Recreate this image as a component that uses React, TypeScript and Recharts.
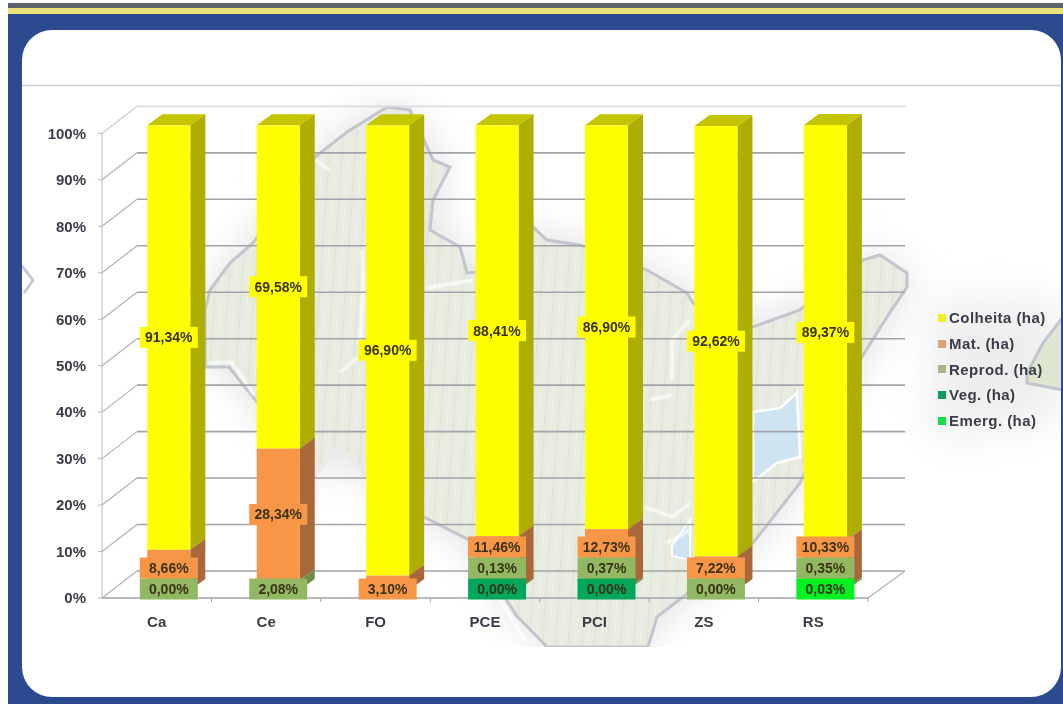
import { BarChart, Bar, XAxis, YAxis, CartesianGrid, LabelList, Legend } from 'recharts'

const regions = ['Ca', 'Ce', 'FO', 'PCE', 'PCI', 'ZS', 'RS']
const colheita = [91.34, 69.58, 96.9, 88.41, 86.9, 92.62, 89.37]
const mat = [8.66, 28.34, 3.1, 11.46, 12.73, 7.22, 10.33]
const reprod = [0, 2.08, null, 0.13, 0.37, 0, 0.35]
const veg = [null, null, null, 0, 0, null, null]
const emerg = [null, null, null, null, null, null, 0.03]
const yTicks = [0, 10, 20, 30, 40, 50, 60, 70, 80, 90, 100]

const chartData = regions.map((name, i) => ({
  name,
  colheita: colheita[i],
  mat: mat[i],
  reprod: reprod[i],
  veg: veg[i],
  emerg: emerg[i],
}))

// top of the stack first, reverseStackOrder flips it so lower labels paint over upper bars
const series = [
  { key: 'colheita', name: 'Colheita (ha)', fill: '#ffff00', side: '#aeae00', top: '#c4c400', legend: '#eef020' },
  { key: 'mat', name: 'Mat. (ha)', fill: '#f79646', side: '#a9683a', top: '#a9683a', legend: '#dca476' },
  { key: 'reprod', name: 'Reprod. (ha)', fill: '#93b864', side: '#6f8c48', top: '#6f8c48', legend: '#aab584' },
  { key: 'veg', name: 'Veg. (ha)', fill: '#00a65a', side: '#007a42', top: '#007a42', legend: '#0f9a62' },
  { key: 'emerg', name: 'Emerg. (ha)', fill: '#00f020', side: '#00b018', top: '#00b018', legend: '#14e04a' },
]

const W = 1063
const H = 704
const PLOT = { left: 102, top: 133, right: 868, bottom: 598 }
const PX_PER_PCT = (PLOT.bottom - PLOT.top) / 100
const BACK = { dx: 35, dy: -27, rightDx: 37 }
const BAR_SHIFT = { x: 12.3, y: -8 }
const DEPTH = { x: 15, y: -11 }
const LABEL_H = 21
const LEGEND_W = 125
const fontFamily = '"Liberation Sans", Arial, sans-serif'

// Excel style label placement: lowest label sits on the floor, the others get pushed up to not overlap
function labelCenters(index: number) {
  const row: any = chartData[index]
  const centers: Record<string, number> = {}
  const base = PLOT.bottom + BAR_SHIFT.y
  let cum = 0
  let prev: number | null = null
  for (const s of [...series].reverse()) {
    const v = row[s.key]
    if (v == null) continue
    let y = base - (cum + v / 2) * PX_PER_PCT
    if (prev == null && y > base - 10) y = base - 1
    if (prev != null) y = Math.min(y, prev - LABEL_H)
    centers[s.key] = y
    prev = y
    cum += v
  }
  return centers
}

function Bar3D(props: any) {
  const { x, y, width, height, fill, side, top, showTop } = props
  if (!height || height <= 0) return null
  const fx = x + BAR_SHIFT.x
  const fy = y + BAR_SHIFT.y
  const r = fx + width
  const b = fy + height
  return (
    <g>
      <polygon points={`${r},${fy} ${r + DEPTH.x},${fy + DEPTH.y} ${r + DEPTH.x},${b + DEPTH.y} ${r},${b}`} fill={side} />
      {showTop && (
        <polygon
          points={`${fx},${fy} ${fx + DEPTH.x},${fy + DEPTH.y} ${r + DEPTH.x},${fy + DEPTH.y} ${r},${fy}`}
          fill={top}
        />
      )}
      <rect x={fx} y={fy} width={width} height={height} fill={fill} />
    </g>
  )
}

function makeLabel(key: string, fill: string) {
  return function BarLabel(props: any) {
    const { x, width, value, index } = props
    if (value == null) return null
    const cy = labelCenters(index)[key]
    const cx = x + width / 2 + BAR_SHIFT.x
    const text = Number(value).toFixed(2).replace('.', ',') + '%'
    return (
      <g>
        <rect x={cx - 29} y={cy - LABEL_H / 2} width={58} height={LABEL_H} fill={fill} />
        <text x={cx} y={cy + 5} textAnchor="middle" fontFamily={fontFamily} fontWeight="bold" fontSize={14} fill="#3b3316">
          {text}
        </text>
      </g>
    )
  }
}

// perspective grid: front tick -> back wall -> right end
function GridLine(props: any) {
  const { x1, x2, y1, key } = props
  const isTop = y1 <= PLOT.top + 1
  const isFloor = y1 >= PLOT.bottom - 1
  const stroke = isTop ? '#dcdcdc' : '#a2a3aa'
  const bx = x1 + BACK.dx
  const by = y1 + BACK.dy
  const step = (x2 - x1) / regions.length
  return (
    <g key={key}>
      <line x1={x1} y1={y1} x2={bx} y2={by} stroke={isTop ? '#c4c4c4' : '#b2b2b2'} strokeWidth={1.2} />
      <line x1={bx} y1={by} x2={x2 + BACK.rightDx} y2={by} stroke={stroke} strokeWidth={1.6} />
      {isFloor && <line x1={x2} y1={y1} x2={x2 + BACK.rightDx} y2={by} stroke="#b2b2b2" strokeWidth={1.2} />}
      {isFloor &&
        regions.map((r, i) => (
          <line key={r} x1={x1 + step * (i + 1)} y1={y1} x2={x1 + step * (i + 1)} y2={y1 + 4} stroke="#a2a3aa" />
        ))}
    </g>
  )
}

function LegendBox({ payload }: any) {
  const items = [...(payload ?? [])].sort(
    (a: any, b: any) => series.findIndex((s) => s.name === a.value) - series.findIndex((s) => s.name === b.value),
  )
  return (
    <div style={{ fontFamily, fontWeight: 'bold', fontSize: 15, letterSpacing: 0.45, color: '#3a3d48' }}>
      {items.map((it: any) => (
        <div key={it.value} style={{ display: 'flex', alignItems: 'center', height: 25.7, whiteSpace: 'nowrap' }}>
          <span
            style={{
              width: 8,
              height: 8,
              marginRight: 3,
              background: series.find((s) => s.name === it.value)?.legend,
            }}
          />
          {it.value}
        </div>
      ))}
    </div>
  )
}

const mapOutline =
  'M205,310 L210,290 230,263 253,243 315,157 347,132 387,107 410,110 433,160 450,167 433,200 430,230 460,247 467,273 500,270 533,227 547,240 580,245 647,270 687,293 693,303 753,327 800,310 863,260 880,255 907,273 907,287 887,317 860,360 800,483 753,543 657,617 648,647 547,647 516,615 469,540 424,517 367,477 339,447 314,477 253,397 229,367 205,367 Z'

// backdrop picture of the slide: frame, panel and the faded map behind the chart
function Backdrop() {
  return (
    <svg width={W} height={H} style={{ position: 'absolute', left: 0, top: 0 }}>
      <defs>
        <clipPath id="mapClip">
          <rect x={22} y={86} width={1039} height={561} />
        </clipPath>
        <filter id="soft" x="-30%" y="-30%" width="160%" height="160%">
          <feGaussianBlur stdDeviation="22" />
        </filter>
        <filter id="streakBlur">
          <feGaussianBlur stdDeviation="1.2" />
        </filter>
        <pattern id="streaks" width="13" height="60" patternUnits="userSpaceOnUse" patternTransform="rotate(4)">
          <rect width="13" height="60" fill="#e7ebe0" />
          <rect width="2" height="60" fill="#e1e6d9" />
          <rect x="7" width="1" height="60" fill="#ecf0e7" />
        </pattern>
      </defs>
      <rect width={W} height={H} fill="#ffffff" />
      <rect x={8} y={3} width={W - 8} height={5} fill="#5d636b" />
      <rect x={8} y={8} width={W - 8} height={6} fill="#e9e17c" />
      <rect x={8} y={14} width={W - 8} height={H - 14} fill="#2c4b8e" />
      <rect x={22} y={30} width={1039} height={667} rx={30} ry={30} fill="#ffffff" />
      <line x1={22} y1={85.5} x2={1061} y2={85.5} stroke="#d0d0d0" strokeWidth={1.5} />
      <g clipPath="url(#mapClip)">
        <path d={mapOutline} fill="#dedede" filter="url(#soft)" />
        <path d="M930,300 L1063,300 L1063,420 L930,440 Z" fill="#eeeeee" filter="url(#soft)" />
        <path d={mapOutline} fill="url(#streaks)" stroke="#c2c4ce" strokeWidth={3} />
        <path d="M753,412 L780,408 797,393 800,457 777,463 753,482 Z" fill="#cfe4f3" stroke="#ffffff" strokeWidth={2.5} />
        <path d="M672,546 L690,520 690,560 672,556 Z" fill="#cfe4f3" stroke="#ffffff" strokeWidth={2} />
        <path
          d="M315,160 L330,170 M362,250 L363,280 M340,372 L357,358 M363,280 L360,345 M427,288 L473,280 M208,363 L232,362 L254,395 M314,477 L339,447 L367,477 L424,517 M645,507 L673,517 L690,503 M667,543 L690,530 M672,380 L672,340 L690,320 M650,400 L672,395 M605,490 L640,505 M500,600 L525,640"
          fill="none"
          stroke="#ffffff"
          strokeWidth={2.5}
          filter="url(#streakBlur)"
        />
        <path
          d="M1027,373 L1043,343 1063,317 L1063,390 L1027,383 Z"
          fill="#dfe7d2"
          stroke="#c2c4ce"
          strokeWidth={3}
        />
        <path d="M22,266 L33,280 L24,293" fill="none" stroke="#c8cad2" strokeWidth={3} />
      </g>
    </svg>
  )
}

export default function App() {
  return (
    <div style={{ position: 'absolute', left: 0, top: 0, width: W, height: H, overflow: 'hidden', filter: 'blur(0.5px)' }}>
      <Backdrop />
      <div style={{ position: 'absolute', left: 0, top: 0 }}>
        <BarChart
          width={W}
          height={H}
          data={chartData}
          barSize={43}
          reverseStackOrder
          margin={{
            top: PLOT.top,
            left: PLOT.left - 60,
            right: W - PLOT.right - LEGEND_W,
            bottom: H - PLOT.bottom - 30,
          }}
        >
          <CartesianGrid vertical={false} horizontal={GridLine} syncWithTicks />
          <XAxis
            dataKey="name"
            height={30}
            axisLine={{ stroke: '#a2a3aa', strokeWidth: 1.6 }}
            tickLine={false}
            tickMargin={12}
            tick={{ fontFamily, fontWeight: 'bold', fontSize: 15, fill: '#3a3d48' }}
          />
          <YAxis
            width={60}
            domain={[0, 100]}
            ticks={yTicks}
            interval={0}
            tickFormatter={(v: number) => `${v}%`}
            axisLine={{ stroke: '#bcbcbc' }}
            tickLine={{ stroke: '#bcbcbc' }}
            tickSize={4}
            tickMargin={12}
            tick={{ fontFamily, fontWeight: 'bold', fontSize: 15, fill: '#3a3d48' }}
          />
          <Legend
            layout="vertical"
            align="right"
            verticalAlign="top"
            content={LegendBox as any}
            wrapperStyle={{ left: 938, top: 305, width: LEGEND_W }}
          />
          {series.map((s, i) => (
            <Bar
              key={s.key}
              dataKey={s.key}
              name={s.name}
              stackId="a"
              fill={s.fill}
              isAnimationActive={false}
              shape={(p: any) => <Bar3D {...p} fill={s.fill} side={s.side} top={s.top} showTop={i === 0} />}
            >
              <LabelList dataKey={s.key} content={makeLabel(s.key, s.fill) as any} />
            </Bar>
          ))}
        </BarChart>
      </div>
    </div>
  )
}
